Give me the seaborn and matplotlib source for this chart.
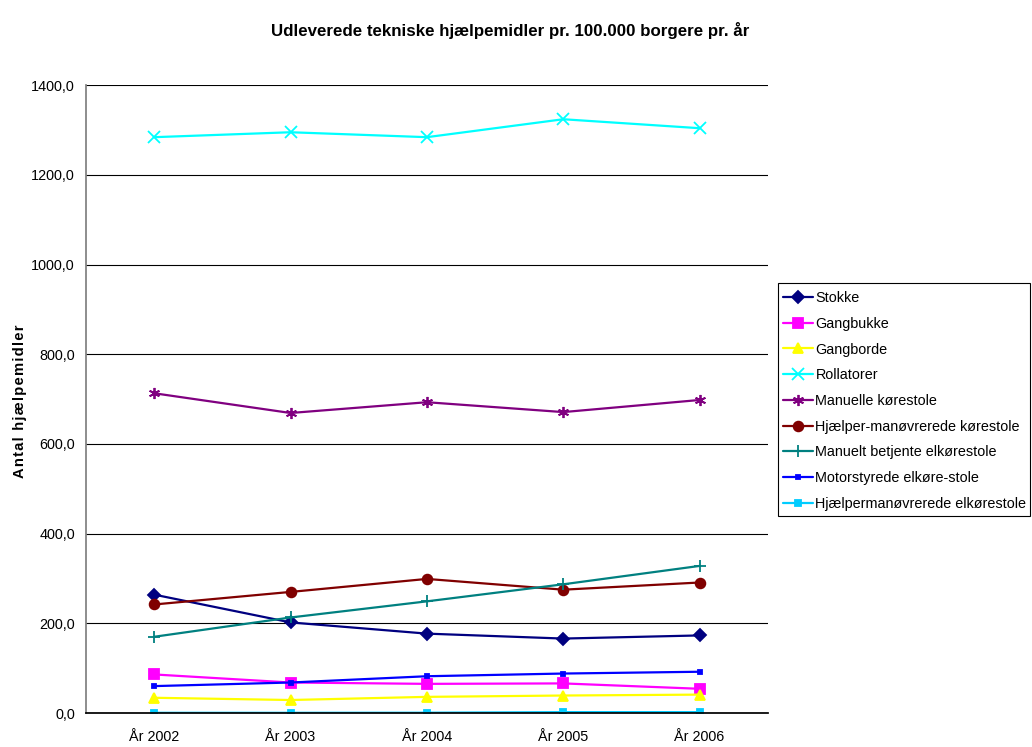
import matplotlib
matplotlib.use("Agg")
import matplotlib.pyplot as plt
from matplotlib.patches import Rectangle
import seaborn as sns
import pandas as pd

years = ["År 2002", "År 2003", "År 2004", "År 2005", "År 2006"]

stokke = [264, 202, 177, 166, 173]
gangbukke = [86, 68, 65, 66, 54]
gangborde = [34, 29, 36, 39, 41]
rollatorer = [1284, 1295, 1284, 1324, 1304]
manuelle_korestole = [713, 669, 693, 671, 698]
hjaelper_korestole = [242, 270, 299, 275, 291]
manuelt_elkorestole = [170, 213, 249, 287, 328]
motorstyrede = [60, 68, 82, 88, 92]
hjaelper_elkorestole = [0.5, 0.5, 0.7, 2.0, 2.0]

series_names = [
    "Stokke",
    "Gangbukke",
    "Gangborde",
    "Rollatorer",
    "Manuelle kørestole",
    "Hjælper-manøvrerede kørestole",
    "Manuelt betjente elkørestole",
    "Motorstyrede elkøre-stole",
    "Hjælpermanøvrerede elkørestole",
]
series_values = [
    stokke, gangbukke, gangborde, rollatorer, manuelle_korestole,
    hjaelper_korestole, manuelt_elkorestole, motorstyrede, hjaelper_elkorestole,
]

rows = []
for name, vals in zip(series_names, series_values):
    for i, v in enumerate(vals):
        rows.append({"pos": i, "serie": name, "antal": v})
df = pd.DataFrame(rows)

colors = ["#000080", "#FF00FF", "#FFFF00", "#00FFFF", "#800080",
          "#800000", "#008080", "#0000FF", "#00CCFF"]
markers = ["D", "s", "^", "x", (6, 2, 0), "o", "+", "s", "s"]
sizes = [6, 7, 7, 8, 8, 7, 9, 3, 4]

sns.set_theme(style="white")
plt.rcParams["font.family"] = ["Liberation Sans", "DejaVu Sans"]
plt.rcParams["text.color"] = "black"
plt.rcParams["xtick.color"] = "black"
plt.rcParams["ytick.color"] = "black"
plt.rcParams["axes.labelcolor"] = "black"

fig = plt.figure(figsize=(10.32, 7.47), dpi=100)
ax = fig.add_axes([0.0833, 0.0455, 0.6607, 0.8405])

for name, c, m, s in zip(series_names, colors, markers, sizes):
    sub = df[df["serie"] == name]
    sns.lineplot(data=sub, x="pos", y="antal", ax=ax, color=c, marker=m,
                 markersize=s, markeredgecolor=c, markerfacecolor=c,
                 markeredgewidth=1.3, linewidth=1.6, label=name)

ax.set_xlim(-0.5, 4.5)
ax.set_ylim(0, 1400)
yt = list(range(0, 1401, 200))
ax.set_yticks(yt)
ax.set_yticklabels([f"{v:.1f}".replace(".", ",") for v in yt], fontsize=10.4)
ax.set_xticks([i - 0.5 for i in range(6)])
ax.set_xticklabels([])
ax.set_xticks(range(5), minor=True)
ax.set_xticklabels(years, minor=True, fontsize=10.4)
ax.tick_params(axis="x", which="major", length=5, width=0.8, color="black", direction="out")
ax.tick_params(axis="x", which="minor", length=0, pad=12)
ax.tick_params(axis="y", length=5, width=0.8, color="black", direction="out", pad=3)
ax.yaxis.grid(True, color="black", linewidth=0.8)
ax.xaxis.grid(False)
ax.set_axisbelow(True)
for side in ["top", "right"]:
    ax.spines[side].set_visible(False)
ax.spines["left"].set_color("#808080")
ax.spines["bottom"].set_color("black")
ax.set_xlabel("")
ylabel = "\u200a".join("Antal hjælpemidler")
ax.set_ylabel(ylabel, fontsize=10.6, fontweight="bold")
ax.yaxis.set_label_coords(-0.086, 0.497)

fig.suptitle("Udleverede tekniske hjælpemidler pr. 100.000 borgere pr. år",
             x=0.494, y=0.97, fontsize=12.2, fontweight="bold")

# legend entries without their own frame; a plain black box is drawn around them
leg = ax.legend(loc="upper left", bbox_to_anchor=(1.0147, 0.680), fontsize=10.4,
                frameon=False, handlelength=2.1, borderpad=0.35, labelspacing=0.81,
                handletextpad=0.15, borderaxespad=0)
fig.patches.append(Rectangle((778 / 1032, 1 - 516 / 747), 252 / 1032, 233 / 747,
                             transform=fig.transFigure, fill=False,
                             edgecolor="black", linewidth=0.8))

fig.savefig("out.png", dpi=100, facecolor="white")
